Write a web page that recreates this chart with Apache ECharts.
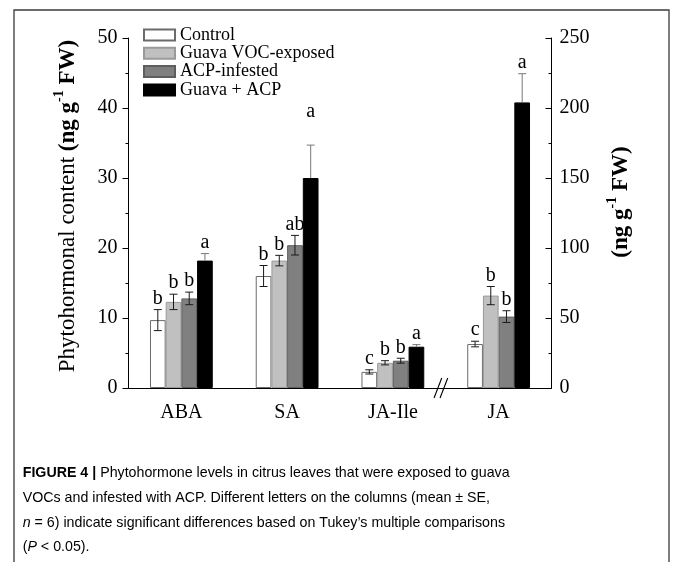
<!DOCTYPE html>
<html>
<head>
<meta charset="utf-8">
<script src="https://cdn.jsdelivr.net/npm/echarts@6/dist/echarts.min.js"></script>
<style>
html,body{margin:0;padding:0;background:#fff;}
#chart{width:676px;height:562px;}
</style>
</head>
<body>
<div id="chart"></div>
<script>
// ---- data ----
const categories = ['ABA', 'SA', 'JA-Ile', 'JA'];
const treatments = ['Control', 'Guava VOC-exposed', 'ACP-infested', 'Guava + ACP'];
// last category (JA) belongs to the right axis
const controlMean = [9.7, 16.0, 2.3, 31.4];
const controlSE   = [1.5, 1.5, 0.3, 2.0];
const guavaMean   = [12.3, 18.2, 3.6, 66.0];
const guavaSE     = [1.1, 0.75, 0.3, 6.5];
const acpMean     = [12.8, 20.4, 3.9, 51.0];
const acpSE       = [0.9, 1.4, 0.35, 4.2];
const bothMean    = [18.2, 30.0, 5.9, 204.0];
const bothSE      = [1.0, 4.7, 0.3, 20.5];
const lettersABA  = ['b', 'b', 'b', 'a'];
const lettersSA   = ['b', 'b', 'ab', 'a'];
const lettersJAIle= ['c', 'b', 'b', 'a'];
const lettersJA   = ['c', 'b', 'b', 'a'];
const leftTicks  = {min: 0, max: 50, interval: 10};
const rightTicks = {min: 0, max: 250, interval: 50};

const means = [controlMean, guavaMean, acpMean, bothMean];
const ses = [controlSE, guavaSE, acpSE, bothSE];
const letters = [lettersABA, lettersSA, lettersJAIle, lettersJA];
const RIGHT_CAT = 3;

const SERIF = "'Liberation Serif','Times New Roman',serif";
const BW = 15.7;
const barStyles = [
  {color: '#ffffff', borderColor: '#6b6b6b', borderWidth: 1},
  {color: '#c0c0c0', borderColor: '#9a9a9a', borderWidth: 1},
  {color: '#808080', borderColor: '#5e5e5e', borderWidth: 1},
  {color: '#000000', borderColor: '#000000', borderWidth: 1}
];
const letterLift = {'1-3': 22};

const chart = echarts.init(document.getElementById('chart'), null, {renderer: 'canvas'});

const series = [];
for (let t = 0; t < 4; t++) {
  series.push({
    type: 'bar', name: treatments[t], xAxisIndex: 0, yAxisIndex: 0,
    barWidth: BW, barGap: '0%',
    itemStyle: barStyles[t],
    emphasis: {disabled: true},
    data: means[t].map((v, i) => i === RIGHT_CAT ? '-' : v)
  });
}
for (let t = 0; t < 4; t++) {
  series.push({
    type: 'bar', name: treatments[t], xAxisIndex: 1, yAxisIndex: 1,
    barWidth: BW, barGap: '0%',
    itemStyle: barStyles[t],
    emphasis: {disabled: true},
    data: means[t].map((v, i) => i === RIGHT_CAT ? v : '-')
  });
}

function errData(right) {
  const out = [];
  for (let i = 0; i < categories.length; i++) {
    if ((i === RIGHT_CAT) !== right) continue;
    for (let t = 0; t < 4; t++) out.push([i, means[t][i], ses[t][i], t]);
  }
  return out;
}
function renderErr(params, api) {
  const ci = api.value(0), m = api.value(1), se = api.value(2), t = api.value(3);
  const c = api.coord([ci, m]);
  const x = c[0] + (t - 1.5) * BW;
  const yTop = api.coord([ci, m + se])[1];
  const yBot = api.coord([ci, m - se])[1];
  const yMid = c[1];
  const cap = 4;
  const black = t === 3;
  const col = black ? '#777777' : '#1a1a1a';
  const children = [];
  const y0 = black ? yMid : yBot;
  children.push({type: 'line', shape: {x1: x, y1: y0, x2: x, y2: yTop}, style: {stroke: col, lineWidth: 1}});
  children.push({type: 'line', shape: {x1: x - cap, y1: yTop, x2: x + cap, y2: yTop}, style: {stroke: col, lineWidth: 1}});
  if (!black) children.push({type: 'line', shape: {x1: x - cap, y1: yBot, x2: x + cap, y2: yBot}, style: {stroke: col, lineWidth: 1}});
  const lift = letterLift[ci + '-' + t] || 0;
  children.push({type: 'text', x: x, y: yTop - 1 - lift,
    style: {text: letters[ci][t], fill: '#000', font: '20px ' + SERIF, align: 'center', verticalAlign: 'bottom'}});
  return {type: 'group', children: children};
}
series.push({type: 'custom', xAxisIndex: 0, yAxisIndex: 0, renderItem: renderErr, data: errData(false), z: 5, silent: true});
series.push({type: 'custom', xAxisIndex: 1, yAxisIndex: 1, renderItem: renderErr, data: errData(true), z: 5, silent: true});

const TFS = 23;
const titleRich = {
  g1: {width: 14, lineHeight: 27},
  g2: {width: 22, lineHeight: 27},
  r: {fontFamily: SERIF, fontSize: TFS, color: '#000', lineHeight: 27, verticalAlign: 'bottom'},
  b: {fontFamily: SERIF, fontSize: TFS, fontWeight: 'bold', color: '#000', lineHeight: 27, verticalAlign: 'bottom'},
  s: {fontFamily: SERIF, fontSize: 14, fontWeight: 'bold', color: '#000', lineHeight: 14, verticalAlign: 'top'}
};

const axisLineStyle = {color: '#000', width: 1};
const option = {
  animation: false,
  grid: {left: 128.5, right: 124.5, top: 38, bottom: 174, containLabel: false},
  legend: {
    data: treatments, orient: 'vertical', left: 143, top: 26, padding: 0,
    itemWidth: 31, itemHeight: 11, itemGap: 0.3, selectedMode: false,
    icon: 'rect',
    textStyle: {fontFamily: SERIF, fontSize: 18, color: '#000'}
  },
  xAxis: [
    {type: 'category', data: categories, boundaryGap: true,
     axisLine: {lineStyle: axisLineStyle},
     axisTick: {alignWithLabel: true, length: 6, lineStyle: axisLineStyle},
     axisLabel: {fontFamily: SERIF, fontSize: 20, color: '#000', margin: 15},
     splitLine: {show: false}},
    {type: 'category', data: categories, show: false}
  ],
  yAxis: [
    {type: 'value', position: 'left', min: leftTicks.min, max: leftTicks.max, interval: leftTicks.interval,
     name: '{g1|}{r|Phytohormonal content }{b|(ng g}{s|-1}{b| FW)}', nameLocation: 'middle', nameGap: 49, nameRotate: 90,
     nameTextStyle: {rich: titleRich},
     axisLine: {show: true, lineStyle: axisLineStyle},
     axisTick: {show: true, length: 6, lineStyle: axisLineStyle},
     minorTick: {show: true, splitNumber: 2, length: 3, lineStyle: axisLineStyle},
     axisLabel: {fontFamily: SERIF, fontSize: 20, color: '#000', margin: 11},
     splitLine: {show: false}, minorSplitLine: {show: false}},
    {type: 'value', position: 'right', min: rightTicks.min, max: rightTicks.max, interval: rightTicks.interval,
     name: '{g2|}{b|(ng g}{s|-1}{b| FW)}', nameLocation: 'middle', nameGap: 54, nameRotate: 90,
     nameTextStyle: {rich: titleRich},
     axisLine: {show: true, lineStyle: axisLineStyle},
     axisTick: {show: true, inside: true, length: 6, lineStyle: axisLineStyle},
     minorTick: {show: true, splitNumber: 2, length: 3, lineStyle: axisLineStyle},
     axisLabel: {fontFamily: SERIF, fontSize: 20, color: '#000', margin: 8},
     splitLine: {show: false}, minorSplitLine: {show: false}}
  ],
  series: series
};
chart.setOption(option);

// decorations: frame, axis break mark, caption
const SANS = "'Liberation Sans',Arial,sans-serif";
const capFs = 15;
const capCol = '#2e2e2e';
const capRich = {
  n: {fontFamily: SANS, fontSize: capFs, color: capCol},
  bd: {fontFamily: SANS, fontSize: capFs, fontWeight: 'bold', color: capCol},
  i: {fontFamily: SANS, fontSize: capFs, fontStyle: 'italic', color: capCol}
};
const captionLines = [
  '{bd|FIGURE 4 |}{n| Phytohormone levels in citrus leaves that were exposed to guava}',
  '{n|VOCs and infested with ACP. Different letters on the columns (mean \u00b1 SE,}',
  '{i|n}{n| = 6) indicate significant differences based on Tukey\u2019s multiple comparisons}',
  '{n|(}{i|P}{n| < 0.05).}'
];
const capY = [472.5, 497.5, 522.5, 546.5];

const p2 = chart.convertToPixel({xAxisIndex: 0}, categories[2]);
const p3 = chart.convertToPixel({xAxisIndex: 0}, categories[3]);
const mx = (p2 + p3) / 2 - 5;
const y0 = chart.convertToPixel({yAxisIndex: 0}, 0);

const graphics = [
  {type: 'rect', shape: {x: 14, y: 10, width: 655, height: 620}, style: {fill: 'none', stroke: '#3a3a3a', lineWidth: 1.3}, silent: true},
  {type: 'line', shape: {x1: mx - 6.7, y1: y0 + 10, x2: mx + 1, y2: y0 - 10}, style: {stroke: '#000', lineWidth: 1.1}},
  {type: 'line', shape: {x1: mx - 0.7, y1: y0 + 10, x2: mx + 7, y2: y0 - 10}, style: {stroke: '#000', lineWidth: 1.1}}
];
captionLines.forEach((s, k) => {
  graphics.push({type: 'text', x: 22.7, y: capY[k], scaleX: 0.948, originX: 0,
    style: {text: s, rich: capRich, verticalAlign: 'middle', align: 'left'}});
});
chart.setOption({graphic: graphics});
</script>
</body>
</html>
